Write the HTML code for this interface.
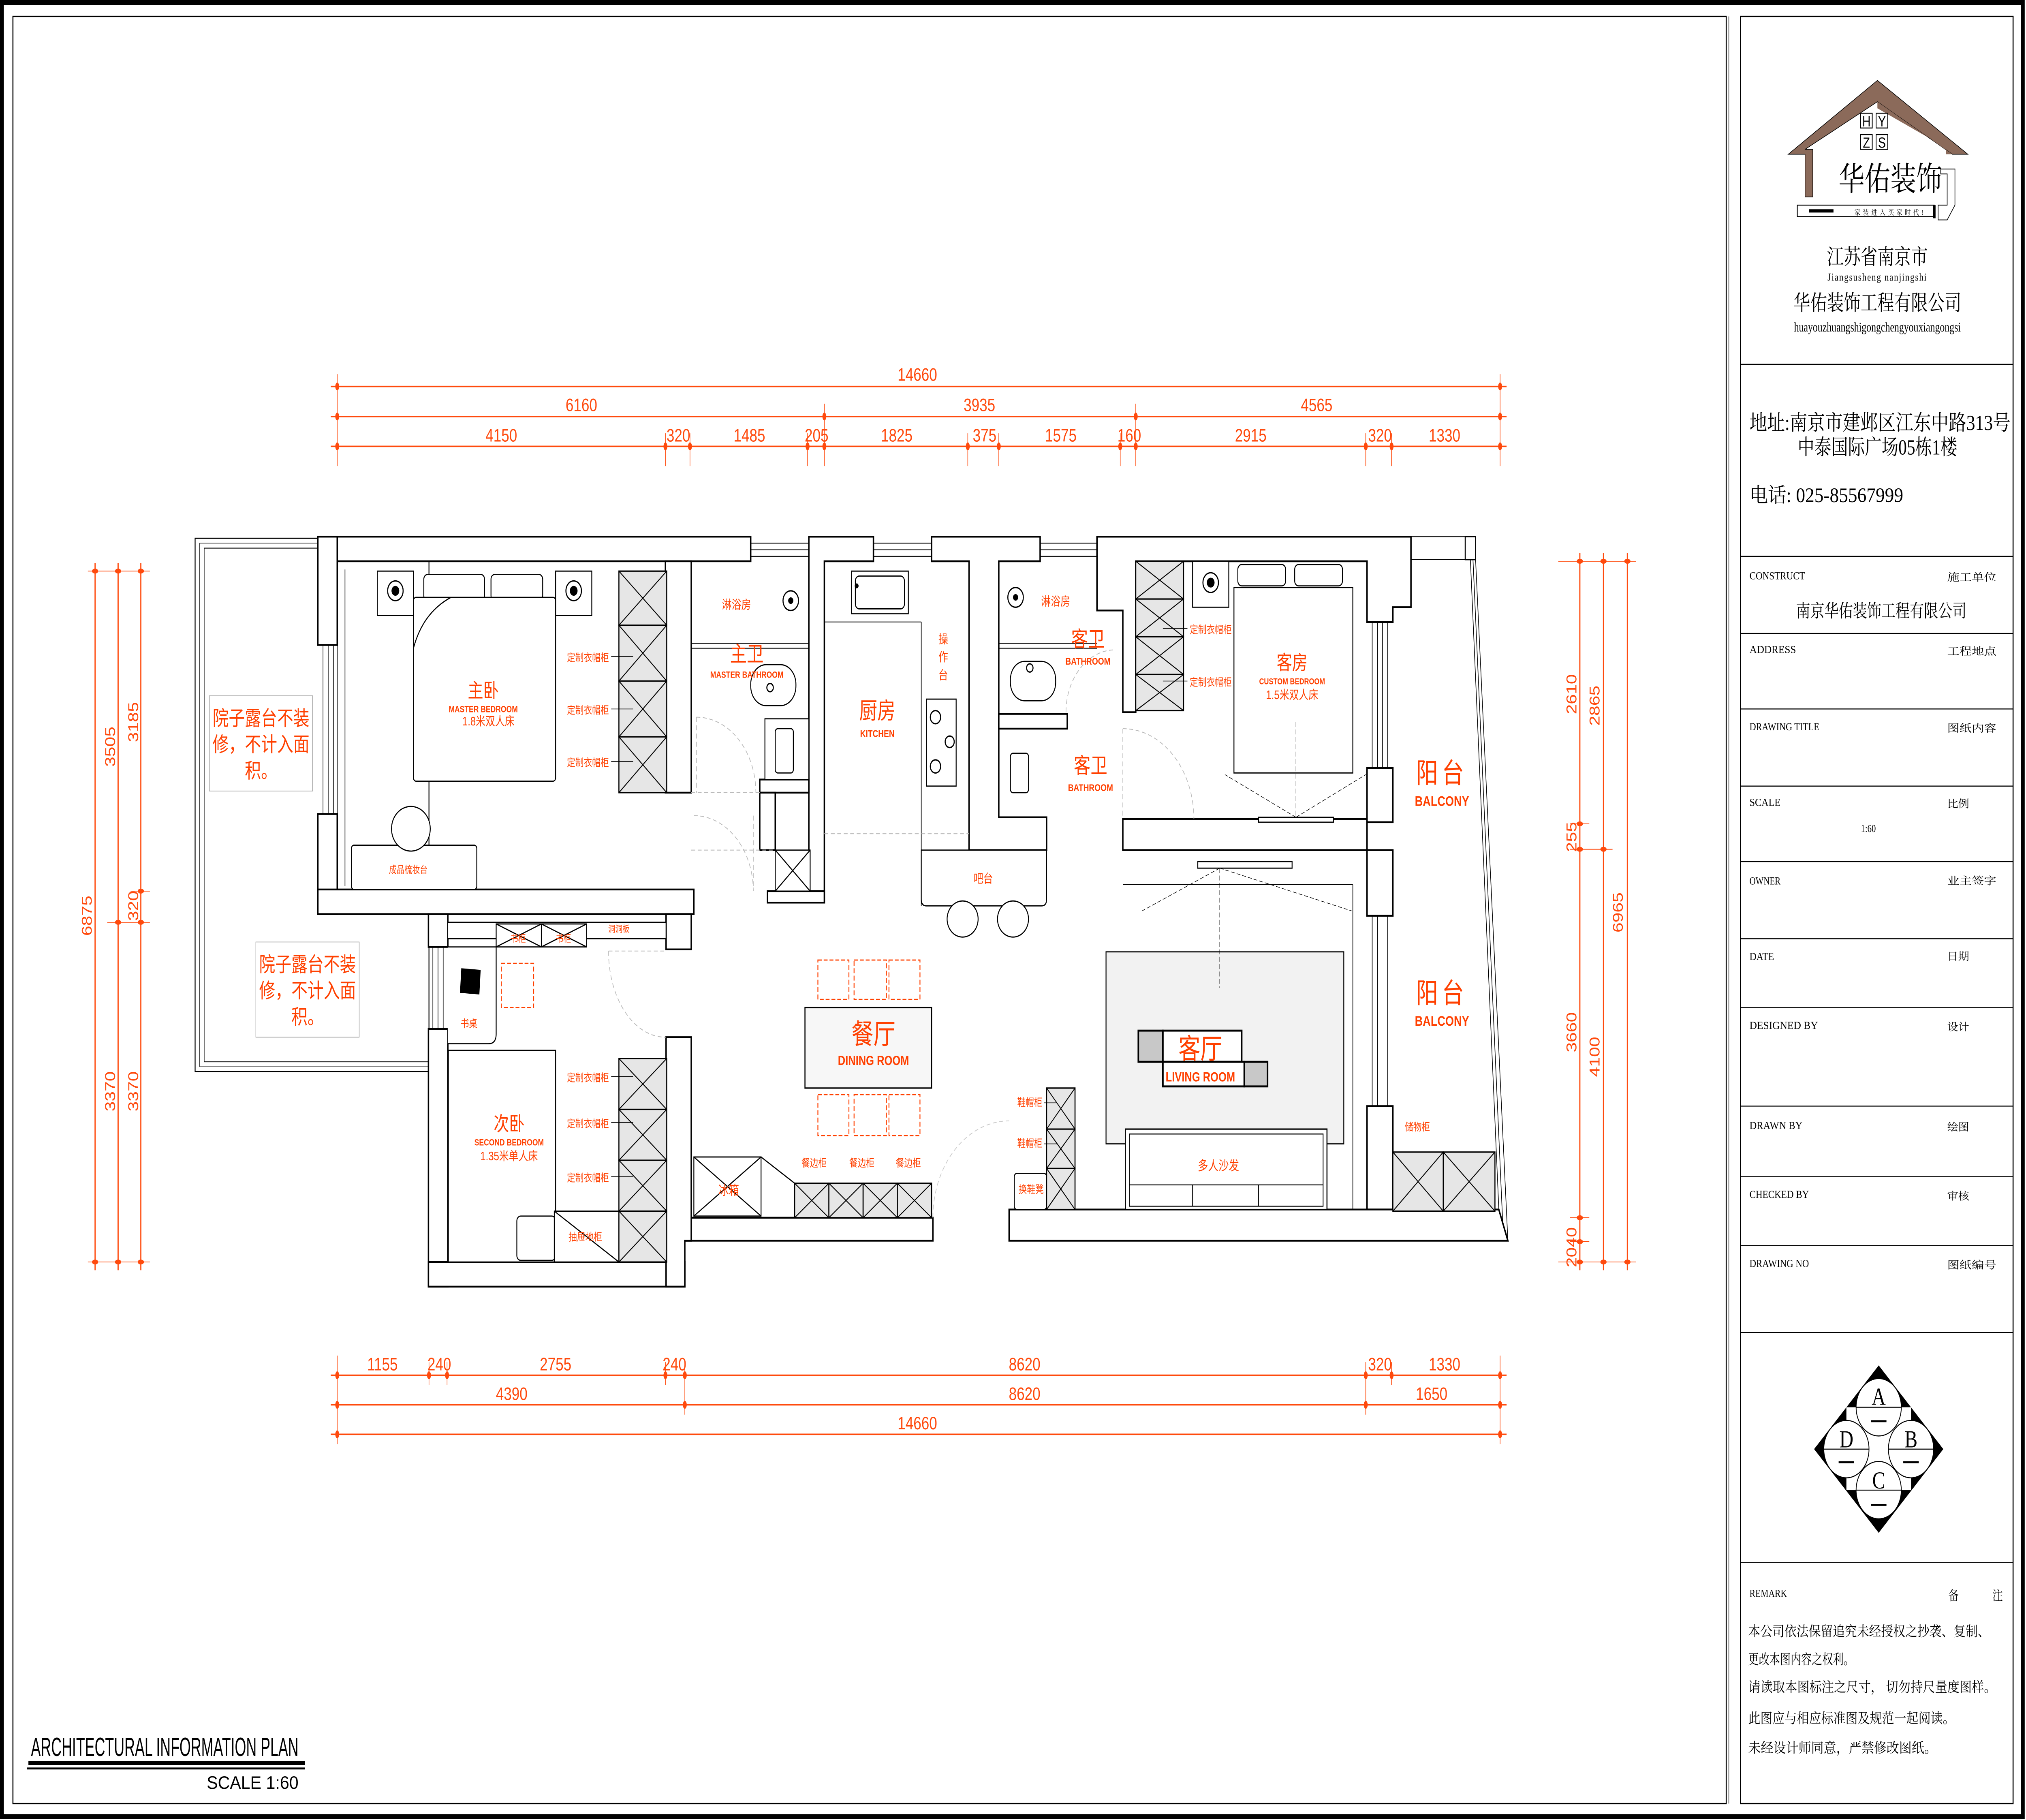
<!DOCTYPE html>
<html><head><meta charset="utf-8"><style>
html,body{margin:0;padding:0;background:#fff;width:100vw;height:100vh;overflow:hidden;}
svg{display:block;position:fixed;left:0;top:0;width:100vw;height:100vh;}
.w{fill:#fff;stroke:#000;stroke-width:1.1;}
.t{stroke:#000;stroke-width:0.5;fill:none;}
.d{stroke:#ff4a0d;stroke-width:0.9;fill:none;}
.e{stroke:#ff4a0d;stroke-width:0.45;fill:none;}
.dn{font-family:"Liberation Sans",sans-serif;font-size:11px;fill:#ff4a0d;text-anchor:middle;}
.r{font-family:"Liberation Sans","Noto Sans CJK SC",sans-serif;fill:#ff4000;text-anchor:middle;}
.s{font-family:"Liberation Serif","Noto Serif CJK SC",serif;fill:#000;}
.cab rect{fill:#e6e6e6;stroke:#000;stroke-width:0.8;}
.cab path{stroke:#000;stroke-width:0.6;fill:none;}
.dr{stroke:#bbb;stroke-width:0.5;fill:none;stroke-dasharray:3 2;}
</style></head><body>
<svg xmlns="http://www.w3.org/2000/svg" viewBox="0 0 1568 1109" preserveAspectRatio="none">
<rect x="0" y="0" width="1568" height="1109" fill="#fff"/>
<rect x="1.5" y="1.5" width="1564" height="1105.5" fill="none" stroke="#000" stroke-width="3"/>
<rect x="10" y="10" width="1326" height="1089" fill="none" stroke="#000" stroke-width="0.8"/>
<line x1="1338" y1="10" x2="1338" y2="1099" stroke="#000" stroke-width="0.4"/>
<rect x="1347" y="10" width="211" height="1089" fill="none" stroke="#000" stroke-width="0.8"/>
<g stroke="#000" stroke-width="0.6">
<line x1="1347" y1="222" x2="1558" y2="222"/><line x1="1347" y1="339" x2="1558" y2="339"/>
<line x1="1347" y1="386" x2="1558" y2="386"/><line x1="1347" y1="432" x2="1558" y2="432"/>
<line x1="1347" y1="479" x2="1558" y2="479"/><line x1="1347" y1="525" x2="1558" y2="525"/>
<line x1="1347" y1="572" x2="1558" y2="572"/><line x1="1347" y1="614" x2="1558" y2="614"/>
<line x1="1347" y1="674" x2="1558" y2="674"/><line x1="1347" y1="717" x2="1558" y2="717"/>
<line x1="1347" y1="759" x2="1558" y2="759"/><line x1="1347" y1="812" x2="1558" y2="812"/>
<line x1="1347" y1="952" x2="1558" y2="952"/>
</g>
<polygon points="1453,49 1523,94 1511,94 1453,62 1397,91 1403,91 1403,120 1397,120 1397,94 1384,94" fill="#8b6a5a" stroke="#000" stroke-width="0.4"/>
<polygon points="1453,62 1511,94 1506,94 1506,90 1453,66" fill="#8b6a5a"/>
<g class="s" text-anchor="middle">
<rect x="1440" y="69" width="9" height="9" fill="#fff" stroke="#000" stroke-width="0.6"/><text x="1444.5" y="77" font-family="Liberation Sans" font-size="9">H</text>
<rect x="1452" y="69" width="9" height="9" fill="#fff" stroke="#000" stroke-width="0.6"/><text x="1456.5" y="77" font-family="Liberation Sans" font-size="9">Y</text>
<rect x="1440" y="82" width="9" height="9" fill="#fff" stroke="#000" stroke-width="0.6"/><text x="1444.5" y="90" font-family="Liberation Sans" font-size="9">Z</text>
<rect x="1452" y="82" width="9" height="9" fill="#fff" stroke="#000" stroke-width="0.6"/><text x="1456.5" y="90" font-family="Liberation Sans" font-size="9">S</text>
</g>
<text x="1463" y="116" class="s" font-size="20" text-anchor="middle" font-family="Liberation Sans,Noto Sans CJK SC,sans-serif">华佑装饰</text>
<rect x="1391" y="125" width="106" height="7" fill="#fff" stroke="#000" stroke-width="0.6"/>
<rect x="1496" y="125" width="2" height="8" fill="#000"/>
<rect x="1400" y="127.5" width="19" height="2" fill="#000"/>
<text x="1463" y="131" class="s" font-size="4.5" text-anchor="middle" font-family="Noto Sans CJK SC,sans-serif" letter-spacing="2">家装进入买家时代!</text>
<path d="M1502,103 L1513,103 L1513,125 L1507,134 L1500,134 L1500,125 L1507,125 L1507,106 L1502,106 Z" fill="#fff" stroke="#000" stroke-width="0.5"/>
<text x="1453" y="161" class="s" font-size="13" text-anchor="middle">江苏省南京市</text>
<text x="1453" y="171" class="s" font-size="6.5" text-anchor="middle" letter-spacing="0.6">Jiangsusheng nanjingshi</text>
<text x="1453" y="189" class="s" font-size="13" text-anchor="middle">华佑装饰工程有限公司</text>
<text x="1453" y="202" class="s" font-size="8" text-anchor="middle" textLength="129" lengthAdjust="spacingAndGlyphs">huayouzhuangshigongchengyouxiangongsi</text>
<text x="1354" y="262" class="s" font-size="13" textLength="202" lengthAdjust="spacingAndGlyphs">地址:南京市建邺区江东中路313号</text>
<text x="1453" y="277" class="s" font-size="13" text-anchor="middle">中泰国际广场05栋1楼</text>
<text x="1354" y="306" class="s" font-size="12.5" textLength="119" lengthAdjust="spacingAndGlyphs">电话: 025-85567999</text>
<g class="s" font-size="6.5">
<text x="1354" y="353" textLength="43" lengthAdjust="spacingAndGlyphs">CONSTRUCT</text>
<text x="1507" y="354" textLength="38" lengthAdjust="spacingAndGlyphs">施工单位</text>
<text x="1456" y="376" font-size="11" text-anchor="middle">南京华佑装饰工程有限公司</text>
<text x="1354" y="398" textLength="36" lengthAdjust="spacingAndGlyphs">ADDRESS</text>
<text x="1507" y="399" textLength="38" lengthAdjust="spacingAndGlyphs">工程地点</text>
<text x="1354" y="445" textLength="54" lengthAdjust="spacingAndGlyphs">DRAWING  TITLE</text>
<text x="1507" y="446" textLength="38" lengthAdjust="spacingAndGlyphs">图纸内容</text>
<text x="1354" y="491" textLength="24" lengthAdjust="spacingAndGlyphs">SCALE</text>
<text x="1507" y="492" textLength="17" lengthAdjust="spacingAndGlyphs">比例</text>
<text x="1446" y="507" text-anchor="middle">1:60</text>
<text x="1354" y="539" textLength="24" lengthAdjust="spacingAndGlyphs">OWNER</text>
<text x="1507" y="539" textLength="38" lengthAdjust="spacingAndGlyphs">业主签字</text>
<text x="1354" y="585" textLength="19" lengthAdjust="spacingAndGlyphs">DATE</text>
<text x="1507" y="585" textLength="17" lengthAdjust="spacingAndGlyphs">日期</text>
<text x="1354" y="627" textLength="53" lengthAdjust="spacingAndGlyphs">DESIGNED  BY</text>
<text x="1507" y="628" textLength="17" lengthAdjust="spacingAndGlyphs">设计</text>
<text x="1354" y="688" textLength="41" lengthAdjust="spacingAndGlyphs">DRAWN  BY</text>
<text x="1507" y="689" textLength="17" lengthAdjust="spacingAndGlyphs">绘图</text>
<text x="1354" y="730" textLength="46" lengthAdjust="spacingAndGlyphs">CHECKED  BY</text>
<text x="1507" y="731" textLength="17" lengthAdjust="spacingAndGlyphs">审核</text>
<text x="1354" y="772" textLength="46" lengthAdjust="spacingAndGlyphs">DRAWING  NO</text>
<text x="1507" y="773" textLength="38" lengthAdjust="spacingAndGlyphs">图纸编号</text>
<text x="1354" y="973" textLength="29" lengthAdjust="spacingAndGlyphs">REMARK</text>
<text x="1508" y="975" font-size="8">备</text><text x="1542" y="975" font-size="8">注</text>
<g font-size="8.5">
<text x="1353" y="997" textLength="187" lengthAdjust="spacingAndGlyphs">本公司依法保留追究未经授权之抄袭、复制、</text>
<text x="1353" y="1014" textLength="82" lengthAdjust="spacingAndGlyphs">更改本图内容之权利。</text>
<text x="1353" y="1031" textLength="192" lengthAdjust="spacingAndGlyphs">请读取本图标注之尺寸，  切勿持尺量度图样。</text>
<text x="1353" y="1050" textLength="160" lengthAdjust="spacingAndGlyphs">此图应与相应标准图及规范一起阅读。</text>
<text x="1353" y="1068" textLength="146" lengthAdjust="spacingAndGlyphs">未经设计师同意，严禁修改图纸。</text>
</g></g>
<polygon points="1454,832 1504,883 1454,934 1404,883" fill="#000"/>
<rect x="1429" y="857.5" width="50" height="50.5" fill="#fff"/>
<g fill="#fff" stroke="#000" stroke-width="0.6">
<circle cx="1454" cy="857.5" r="17.5"/><circle cx="1479" cy="883" r="17.5"/><circle cx="1429" cy="883" r="17.5"/><circle cx="1454" cy="908" r="17.5"/>
</g>
<g stroke="#000" stroke-width="0.6">
<line x1="1436.5" y1="857.5" x2="1471.5" y2="857.5"/><line x1="1461.5" y1="883" x2="1496.5" y2="883"/>
<line x1="1411.5" y1="883" x2="1446.5" y2="883"/><line x1="1436.5" y1="908" x2="1471.5" y2="908"/>
<line x1="1448" y1="866" x2="1460" y2="866" stroke-width="1.2"/><line x1="1473" y1="891" x2="1485" y2="891" stroke-width="1.2"/>
<line x1="1423" y1="891" x2="1435" y2="891" stroke-width="1.2"/><line x1="1448" y1="917" x2="1460" y2="917" stroke-width="1.2"/>
</g>
<g class="s" font-size="15" text-anchor="middle"><text x="1454" y="856">A</text><text x="1479" y="882">B</text><text x="1429" y="882">D</text><text x="1454" y="907">C</text></g>
<text x="24" y="1070" font-family="Liberation Sans,sans-serif" font-size="16" textLength="207" lengthAdjust="spacingAndGlyphs">ARCHITECTURAL INFORMATION PLAN</text>
<rect x="22" y="1073" width="214" height="2.6" fill="#000"/><rect x="21" y="1077" width="215" height="1.2" fill="#000"/>
<text x="160" y="1090" font-family="Liberation Sans,sans-serif" font-size="11" textLength="71" lengthAdjust="spacingAndGlyphs">SCALE   1:60</text>

<g class="d">
<line x1="256" y1="235.5" x2="1166" y2="235.5"/><line x1="256" y1="253.8" x2="1166" y2="253.8"/><line x1="256" y1="272" x2="1166" y2="272"/>
<line x1="256" y1="838" x2="1166" y2="838"/><line x1="256" y1="856" x2="1166" y2="856"/><line x1="256" y1="874" x2="1166" y2="874"/>
<line x1="73.6" y1="343" x2="73.6" y2="774"/><line x1="91.4" y1="343" x2="91.4" y2="774"/><line x1="109" y1="343" x2="109" y2="774"/>
<line x1="1222.7" y1="337" x2="1222.7" y2="774"/><line x1="1241" y1="337" x2="1241" y2="774"/><line x1="1259.5" y1="337" x2="1259.5" y2="774"/>
</g>
<g class="e">
<path d="M261,228V284M1161,228V284M638,246V284M879,246V284M515,264V284M534,264V284M625,264V284M749,264V284M773,264V284M867,264V284M1057,264V284M1077,264V284"/>
<path d="M261,826V880M1161,826V880M332,830V844M346,830V844M515,830V844M530,830V862M1057,830V862M1077,830V844"/>
<path d="M68,348H116M68,769H116M83,562H116M101,543H116"/>
<path d="M1206,342H1266M1206,769H1266M1215,502H1230M1215,517.5H1248M1215,742H1230M1215,756.6H1230"/>
</g>
<g fill="#ff4a0d">
<ellipse cx="261" cy="235.5" rx="1.5" ry="2.4"/><ellipse cx="1161" cy="235.5" rx="1.5" ry="2.4"/>
<ellipse cx="261" cy="253.8" rx="1.5" ry="2.4"/><ellipse cx="638" cy="253.8" rx="1.5" ry="2.4"/><ellipse cx="879" cy="253.8" rx="1.5" ry="2.4"/><ellipse cx="1161" cy="253.8" rx="1.5" ry="2.4"/>
<ellipse cx="261" cy="272" rx="1.5" ry="2.4"/><ellipse cx="515" cy="272" rx="1.5" ry="2.4"/><ellipse cx="534" cy="272" rx="1.5" ry="2.4"/><ellipse cx="625" cy="272" rx="1.5" ry="2.4"/><ellipse cx="638" cy="272" rx="1.5" ry="2.4"/><ellipse cx="749" cy="272" rx="1.5" ry="2.4"/><ellipse cx="773" cy="272" rx="1.5" ry="2.4"/><ellipse cx="867" cy="272" rx="1.5" ry="2.4"/><ellipse cx="879" cy="272" rx="1.5" ry="2.4"/><ellipse cx="1057" cy="272" rx="1.5" ry="2.4"/><ellipse cx="1077" cy="272" rx="1.5" ry="2.4"/><ellipse cx="1161" cy="272" rx="1.5" ry="2.4"/>
<ellipse cx="261" cy="838" rx="1.5" ry="2.4"/><ellipse cx="332" cy="838" rx="1.5" ry="2.4"/><ellipse cx="346" cy="838" rx="1.5" ry="2.4"/><ellipse cx="515" cy="838" rx="1.5" ry="2.4"/><ellipse cx="530" cy="838" rx="1.5" ry="2.4"/><ellipse cx="1057" cy="838" rx="1.5" ry="2.4"/><ellipse cx="1077" cy="838" rx="1.5" ry="2.4"/><ellipse cx="1161" cy="838" rx="1.5" ry="2.4"/>
<ellipse cx="261" cy="856" rx="1.5" ry="2.4"/><ellipse cx="530" cy="856" rx="1.5" ry="2.4"/><ellipse cx="1057" cy="856" rx="1.5" ry="2.4"/><ellipse cx="1161" cy="856" rx="1.5" ry="2.4"/>
<ellipse cx="261" cy="874" rx="1.5" ry="2.4"/><ellipse cx="1161" cy="874" rx="1.5" ry="2.4"/>
<ellipse cx="73.6" cy="348" rx="2.4" ry="1.5"/><ellipse cx="73.6" cy="769" rx="2.4" ry="1.5"/>
<ellipse cx="91.4" cy="348" rx="2.4" ry="1.5"/><ellipse cx="91.4" cy="562" rx="2.4" ry="1.5"/><ellipse cx="91.4" cy="769" rx="2.4" ry="1.5"/>
<ellipse cx="109" cy="348" rx="2.4" ry="1.5"/><ellipse cx="109" cy="543" rx="2.4" ry="1.5"/><ellipse cx="109" cy="562" rx="2.4" ry="1.5"/><ellipse cx="109" cy="769" rx="2.4" ry="1.5"/>
<ellipse cx="1222.7" cy="342" rx="2.4" ry="1.5"/><ellipse cx="1222.7" cy="502" rx="2.4" ry="1.5"/><ellipse cx="1222.7" cy="517.5" rx="2.4" ry="1.5"/><ellipse cx="1222.7" cy="742" rx="2.4" ry="1.5"/><ellipse cx="1222.7" cy="756.6" rx="2.4" ry="1.5"/><ellipse cx="1222.7" cy="769" rx="2.4" ry="1.5"/>
<ellipse cx="1241" cy="342" rx="2.4" ry="1.5"/><ellipse cx="1241" cy="517.5" rx="2.4" ry="1.5"/><ellipse cx="1241" cy="769" rx="2.4" ry="1.5"/>
<ellipse cx="1259.5" cy="342" rx="2.4" ry="1.5"/><ellipse cx="1259.5" cy="769" rx="2.4" ry="1.5"/>
</g>
<g class="dn">
<text x="710" y="232">14660</text>
<text x="450" y="250.5">6160</text><text x="758" y="250.5">3935</text><text x="1019" y="250.5">4565</text>
<text x="388" y="269">4150</text><text x="525" y="269">320</text><text x="580" y="269">1485</text><text x="632" y="269">205</text><text x="694" y="269">1825</text><text x="762" y="269">375</text><text x="821" y="269">1575</text><text x="874" y="269">160</text><text x="968" y="269">2915</text><text x="1068" y="269">320</text><text x="1118" y="269">1330</text>
<text x="296" y="835">1155</text><text x="340" y="835">240</text><text x="430" y="835">2755</text><text x="522" y="835">240</text><text x="793" y="835">8620</text><text x="1068" y="835">320</text><text x="1118" y="835">1330</text>
<text x="396" y="853">4390</text><text x="793" y="853">8620</text><text x="1108" y="853">1650</text>
<text x="710" y="871">14660</text>
<text transform="translate(71,558) rotate(-90)">6875</text>
<text transform="translate(89,455) rotate(-90)">3505</text>
<text transform="translate(107,440) rotate(-90)">3185</text>
<text transform="translate(107,552) rotate(-90)">320</text>
<text transform="translate(89,665) rotate(-90)">3370</text>
<text transform="translate(107,665) rotate(-90)">3370</text>
<text transform="translate(1220,423) rotate(-90)">2610</text>
<text transform="translate(1238,430) rotate(-90)">2865</text>
<text transform="translate(1220,510) rotate(-90)">255</text>
<text transform="translate(1256,556) rotate(-90)">6965</text>
<text transform="translate(1220,629) rotate(-90)">3660</text>
<text transform="translate(1238,644) rotate(-90)">4100</text>
<text transform="translate(1220,760) rotate(-90)">2040</text>
</g>

<rect x="151" y="328" width="181" height="325" fill="none" stroke="#000" stroke-width="0.7"/>
<path d="M332,334 H158 V647 H332" fill="none" stroke="#000" stroke-width="0.5"/>
<path d="M332,331 H154.5 V650 H332" fill="none" stroke="#000" stroke-width="0.3"/>
<rect x="162" y="424" width="80" height="58" fill="none" stroke="#999" stroke-width="0.4"/>
<rect x="198" y="574" width="80" height="58" fill="none" stroke="#999" stroke-width="0.4"/>
<g class="r" font-size="12.5">
<text x="202" y="442">院子露台不装</text><text x="202" y="458">修，不计入面</text><text x="202" y="474">积。</text>
<text x="238" y="592">院子露台不装</text><text x="238" y="608">修，不计入面</text><text x="238" y="624">积。</text>
</g>

<g class="w">
<rect x="246" y="327" width="335" height="15"/>
<rect x="246" y="327" width="15" height="66"/>
<rect x="246" y="496" width="15" height="61"/>
<rect x="246" y="542" width="291" height="15"/>
<rect x="515" y="342" width="20" height="141"/>
<polygon points="626,327 676,327 676,342 638,342 638,550 626,550"/>
<polygon points="721,327 805,327 805,342 773,342 773,498 810,498 810,518 750,518 750,342 721,342"/>
<polygon points="849,327 1092,327 1092,370 1078,370 1078,379 1058,379 1058,342 879,342 879,434 869,434 869,372 849,372"/>
<rect x="1058" y="468" width="20" height="33"/>
<rect x="1058" y="518" width="20" height="40"/>
<rect x="1058" y="674" width="20" height="63"/>
<rect x="869" y="499" width="189" height="19"/>
<polygon points="781,737 1160,737 1167,756 781,756"/>
<rect x="530" y="742" width="192" height="14"/>
<rect x="588" y="475" width="38" height="8"/>
<rect x="588" y="483" width="12" height="35"/>
<rect x="594" y="543" width="44" height="7"/>
<rect x="773" y="435" width="53" height="9"/>
<rect x="331.6" y="557" width="15" height="20"/>
<rect x="331.6" y="627" width="15" height="157"/>
<rect x="331.6" y="769" width="198.4" height="15"/>
<polygon points="515.5,632 535,632 535,756 530,756 530,784 515.5,784"/>
<polygon points="515.5,557 535,557 535,578.5 515.5,578.5"/>
<rect x="346.5" y="562" width="169" height="10" stroke-width="0.7"/>
</g>
<g class="t">
<path d="M581,331H626M581,335H626M581,339H626"/>
<path d="M676,331H721M676,335H721M676,339H721"/>
<path d="M805,331H849M805,335H849M805,339H849"/>
<path d="M1092,327H1134M1092,341H1138"/>
<rect x="1134" y="327" width="8" height="14" stroke-width="0.8"/>
<path d="M1138,341L1160,737M1142,341L1167,756M1140,341L1163,745"/>
<path d="M250,393V496M254,393V496M258,393V496"/>
<path d="M335,577V627M339,577V627M343,577V627"/>
<path d="M1062,379V468M1066,379V468M1070,379V468M1074,379V468"/>
<path d="M1062,558V674M1066,558V674M1074,558V674"/>
<path d="M261,347V540M267,347V540"/>
<path d="M869,518H1058M869,539H1047M1047,539V737"/>
<path d="M535,392H626M535,395H626M773,392H849M773,395H849"/>
<path d="M713,379V552M638,379H713"/>
</g>
<g class="dr">
<path d="M539,437 A46,46 0 0 1 585,483"/><line x1="539" y1="437" x2="539" y2="483"/>
<path d="M537,497 A46,46 0 0 1 583,543"/><line x1="583" y1="497" x2="583" y2="543"/>
<path d="M471,579.5 A44,52 0 0 0 515.5,632"/><line x1="471" y1="579.5" x2="515.5" y2="579.5"/>
<path d="M869,444 A55,55 0 0 1 924,499"/><line x1="869" y1="444" x2="869" y2="499"/>
<path d="M825,434 A38,38 0 0 1 863,396"/>
<path d="M722,742 A59,59 0 0 1 781,683" stroke="#ccc"/>
<path d="M535,483H588M535,518H600M638,508H750"/>
</g>

<g fill="#fff" stroke="#000" stroke-width="0.7">
<rect x="292" y="348" width="28" height="27"/><rect x="430" y="348" width="28" height="27"/>
<rect x="328" y="350" width="47" height="16" rx="3"/><rect x="380" y="350" width="40" height="16" rx="3"/>
<rect x="320" y="364" width="110" height="112" rx="2"/>
<path d="M349,364 C335,370 325,380 320,395" fill="none"/>
<rect x="272" y="515" width="97" height="27" rx="2"/>
<ellipse cx="318" cy="505" rx="15" ry="13.6"/>
<rect x="581" y="405" width="35" height="25" rx="12"/>
<rect x="592" y="438" width="34" height="37"/><rect x="600" y="444" width="14" height="27" rx="2"/>
<rect x="659" y="348" width="44" height="26"/><rect x="662" y="351" width="38" height="20" rx="3"/>
<rect x="717" y="426" width="23" height="53"/>
<path d="M713,518 H810 V548 Q810,552 806,552 H717 Q713,552 713,548 Z"/>
<ellipse cx="745" cy="560" rx="12" ry="11"/><ellipse cx="784" cy="560" rx="12" ry="11"/>
<rect x="782" y="403" width="35" height="24" rx="11"/>
<rect x="782" y="459" width="14" height="24" rx="2"/>
<rect x="923" y="342" width="28" height="28"/>
<rect x="958" y="344" width="37" height="13" rx="3"/><rect x="1002" y="344" width="37" height="13" rx="3"/>
<rect x="955" y="358" width="92" height="113"/>
<rect x="974" y="498" width="58" height="3"/>
<rect x="927" y="525" width="73" height="4"/>
<path d="M346.5,577 H384 V630 Q384,636 378,636 H346.5"/>
<rect x="347" y="640" width="83" height="129"/>
<rect x="400" y="741" width="30" height="27" rx="3"/>
<rect x="429" y="738" width="50" height="31"/>
<rect x="537" y="705" width="52" height="36"/>
<rect x="785" y="715" width="25" height="22" rx="2"/>
</g>
<rect x="856" y="580" width="184" height="117" fill="#f2f2f2" stroke="#000" stroke-width="0.7"/>
<rect x="871" y="688" width="156" height="49" fill="#fff" stroke="#000" stroke-width="0.8"/>
<rect x="874" y="691" width="150" height="44" fill="#fff" stroke="#000" stroke-width="0.6"/>
<path d="M874,722H1024M923,722V735M974,722V735" stroke="#000" stroke-width="0.6"/>
<rect x="623" y="614" width="98" height="49" fill="#f7f7f7" stroke="#000" stroke-width="0.8"/>
<g fill="none" stroke="#ff4000" stroke-width="0.7" stroke-dasharray="3 1.5">
<rect x="633" y="585" width="24" height="24"/><rect x="661" y="585" width="25" height="24"/><rect x="688" y="585" width="24" height="24"/>
<rect x="633" y="667" width="24" height="25"/><rect x="661" y="667" width="25" height="25"/><rect x="688" y="667" width="24" height="25"/>
<rect x="388" y="587" width="25" height="27"/>
</g>
<polygon points="357,590 372,591 371,606 356,605" fill="#000"/>
<g fill="none" stroke="#000" stroke-width="0.8">
<circle cx="306" cy="360" r="6"/><circle cx="444" cy="360" r="6"/><circle cx="937" cy="355" r="6"/>
<circle cx="612" cy="366" r="6"/><circle cx="786" cy="364" r="6"/>
<circle cx="724" cy="437" r="4"/><circle cx="724" cy="467" r="4"/><circle cx="735" cy="452" r="3.5"/>
<circle cx="596" cy="419" r="2.5"/><circle cx="797" cy="407" r="2.5"/>
</g>
<g fill="#000"><circle cx="306" cy="360" r="3"/><circle cx="444" cy="360" r="3"/><circle cx="937" cy="355" r="3"/><circle cx="612" cy="366" r="2"/><circle cx="786" cy="364" r="2"/><circle cx="663" cy="357" r="1.5"/></g>
<rect x="881" y="628" width="19" height="19" fill="#c8c8c8" stroke="#000" stroke-width="1.2"/>
<rect x="900" y="628" width="61" height="19" fill="#fff" stroke="#000" stroke-width="1.2"/>
<rect x="900" y="647" width="63" height="15" fill="#fff" stroke="#000" stroke-width="1.2"/>
<rect x="963" y="647" width="18" height="15" fill="#c8c8c8" stroke="#000" stroke-width="1.2"/>
<g stroke="#000" stroke-width="0.35" stroke-dasharray="3 1.5" fill="none">
<path d="M944,529 L884,555 M944,529 L1046,555 M944,529 V602"/>
<path d="M1003,498 L948,472 M1003,498 L1057,472 M1003,440 V498"/>
</g>

<g class="cab">
<g><rect x="479" y="348" width="37" height="33"/><path d="M479,348L516,381M516,348L479,381"/></g>
<g><rect x="479" y="381" width="37" height="34"/><path d="M479,381L516,415M516,381L479,415"/></g>
<g><rect x="479" y="415" width="37" height="34"/><path d="M479,415L516,449M516,415L479,449"/></g>
<g><rect x="479" y="449" width="37" height="34"/><path d="M479,449L516,483M516,449L479,483"/></g>
<g><rect x="479" y="645" width="37" height="31"/><path d="M479,645L516,676M516,645L479,676"/></g>
<g><rect x="479" y="676" width="37" height="31"/><path d="M479,676L516,707M516,676L479,707"/></g>
<g><rect x="479" y="707" width="37" height="31"/><path d="M479,707L516,738M516,707L479,738"/></g>
<g><rect x="479" y="738" width="37" height="31"/><path d="M479,738L516,769M516,738L479,769"/></g>
<g><rect x="879" y="342" width="37" height="23"/><path d="M879,342L916,365M916,342L879,365"/></g>
<g><rect x="879" y="365" width="37" height="23"/><path d="M879,365L916,388M916,365L879,388"/></g>
<g><rect x="879" y="388" width="37" height="23"/><path d="M879,388L916,411M916,388L879,411"/></g>
<g><rect x="879" y="411" width="37" height="22"/><path d="M879,411L916,433M916,411L879,433"/></g>
<g><rect x="810" y="663" width="22" height="25"/><path d="M810,663L832,688M832,663L810,688"/></g>
<g><rect x="810" y="688" width="22" height="24"/><path d="M810,688L832,712M832,688L810,712"/></g>
<g><rect x="810" y="712" width="22" height="25"/><path d="M810,712L832,737M832,712L810,737"/></g>
<g><rect x="615" y="721" width="26.5" height="21"/><path d="M615,721L641.5,742M641.5,721L615,742"/></g>
<g><rect x="641.5" y="721" width="26.5" height="21"/><path d="M641.5,721L668,742M668,721L641.5,742"/></g>
<g><rect x="668" y="721" width="26.5" height="21"/><path d="M668,721L694.5,742M694.5,721L668,742"/></g>
<g><rect x="694.5" y="721" width="26.5" height="21"/><path d="M694.5,721L721,742M721,721L694.5,742"/></g>
<g><rect x="1078" y="702" width="39" height="36"/><path d="M1078,702L1117,738M1117,702L1078,738"/></g>
<g><rect x="1117" y="702" width="40" height="36"/><path d="M1117,702L1157,738M1157,702L1117,738"/></g>
</g>
<g fill="#fff" stroke="#000" stroke-width="0.7">
<rect x="384" y="563" width="35" height="14"/><path d="M384,563L419,577M419,563L384,577"/>
<rect x="419" y="563" width="35" height="14"/><path d="M419,563L454,577M454,563L419,577"/>
<rect x="600" y="518" width="27" height="25"/><path d="M600,518L627,543M627,518L600,543"/>
<path d="M537,705L589,741M589,705L537,741M589,705L615,721M429,738L479,769" fill="none"/>
</g>

<g class="r">
<text x="374" y="425" font-size="12">主卧</text>
<text x="374" y="434" font-size="5.5" font-weight="bold">MASTER BEDROOM</text>
<text x="378" y="442" font-size="7.5">1.8米双人床</text>
<text x="316" y="532" font-size="6">成品梳妆台</text>
<text x="570" y="371" font-size="7.5">淋浴房</text>
<text x="578" y="403" font-size="13">主卫</text>
<text x="578" y="413" font-size="5.5" font-weight="bold">MASTER BATHROOM</text>
<text x="679" y="438" font-size="14">厨房</text>
<text x="679" y="449" font-size="6" font-weight="bold">KITCHEN</text>
<text x="730" y="392" font-size="7.5">操</text><text x="730" y="403" font-size="7.5">作</text><text x="730" y="414" font-size="7.5">台</text>
<text x="761" y="538" font-size="7.5">吧台</text>
<text x="817" y="369" font-size="7.5">淋浴房</text>
<text x="842" y="394" font-size="13">客卫</text>
<text x="842" y="405" font-size="6" font-weight="bold">BATHROOM</text>
<text x="844" y="471" font-size="13">客卫</text>
<text x="844" y="482" font-size="6" font-weight="bold">BATHROOM</text>
<text x="1000" y="408" font-size="12">客房</text>
<text x="1000" y="417" font-size="5.2" font-weight="bold">CUSTOM BEDROOM</text>
<text x="1000" y="426" font-size="7.5">1.5米双人床</text>
<text x="1116" y="477" font-size="17" letter-spacing="3">阳台</text>
<text x="1116" y="491" font-size="8.5" font-weight="bold">BALCONY</text>
<text x="1116" y="611" font-size="17" letter-spacing="3">阳台</text>
<text x="1116" y="625" font-size="8.5" font-weight="bold">BALCONY</text>
<text x="1097" y="689" font-size="6.5">储物柜</text>
<text x="676" y="636" font-size="17">餐厅</text>
<text x="676" y="649" font-size="8" font-weight="bold">DINING ROOM</text>
<text x="929" y="645" font-size="17">客厅</text>
<text x="929" y="659" font-size="8" font-weight="bold">LIVING ROOM</text>
<text x="943" y="713" font-size="8">多人沙发</text>
<text x="797" y="674" font-size="6.5">鞋帽柜</text><text x="797" y="699" font-size="6.5">鞋帽柜</text>
<text x="798" y="727" font-size="6.5">换鞋凳</text>
<text x="630" y="711" font-size="6.5">餐边柜</text><text x="667" y="711" font-size="6.5">餐边柜</text><text x="703" y="711" font-size="6.5">餐边柜</text>
<text x="564" y="728" font-size="8">冰箱</text>
<text x="394" y="689" font-size="12">次卧</text>
<text x="394" y="698" font-size="5.5" font-weight="bold">SECOND BEDROOM</text>
<text x="394" y="707" font-size="7.5">1.35米单人床</text>
<text x="453" y="756" font-size="6.5">抽屉地柜</text>
<text x="363" y="626" font-size="6.5">书桌</text>
<text x="401" y="574" font-size="6">书柜</text><text x="436" y="574" font-size="6">书柜</text>
<text x="479" y="568" font-size="5.5">洞洞板</text>
<text x="455" y="403" font-size="6.5">定制衣帽柜</text><text x="455" y="435" font-size="6.5">定制衣帽柜</text><text x="455" y="467" font-size="6.5">定制衣帽柜</text>
<text x="455" y="659" font-size="6.5">定制衣帽柜</text><text x="455" y="687" font-size="6.5">定制衣帽柜</text><text x="455" y="720" font-size="6.5">定制衣帽柜</text>
<text x="937" y="386" font-size="6.5">定制衣帽柜</text><text x="937" y="418" font-size="6.5">定制衣帽柜</text>
</g>
<g stroke="#000" stroke-width="0.4">
<path d="M473,400H490M473,432H490M473,464H490M473,656H490M473,684H490M473,717H490M919,383H900M919,415H900M808,672H818M808,697H818"/>
</g>
</svg>
</body></html>
